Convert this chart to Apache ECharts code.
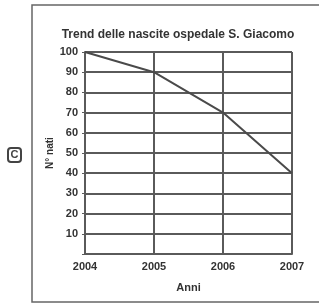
<!DOCTYPE html>
<html><head><meta charset="utf-8">
<script src="https://cdn.jsdelivr.net/npm/echarts@6/dist/echarts.min.js"></script>
<style>html,body{margin:0;padding:0;background:#fff}#c{width:319px;height:305px}</style>
</head><body><div id="c"></div>
<script>
const years = ['2004', '2005', '2006', '2007'];
const births = [100, 90, 70, 40];
const yTicks = [0, 10, 20, 30, 40, 50, 60, 70, 80, 90, 100];

const chart = echarts.init(document.getElementById('c'), null, {renderer: 'canvas'});
const gray = '#5a5a5a';
const txt = '#333';
const font = 'Liberation Sans';
chart.setOption({
  animation: false,
  backgroundColor: '#fff',
  title: {
    text: 'Trend delle nascite ospedale S. Giacomo',
    left: 173, top: 24, textAlign: 'center',
    textStyle: {fontFamily: font, fontSize: 12, fontWeight: 'bold', color: txt}
  },
  grid: {left: 85, top: 52, right: 27, bottom: 51, containLabel: false},
  xAxis: {
    type: 'category', data: years, boundaryGap: false,
    name: 'Anni', nameLocation: 'middle', nameGap: 28,
    nameTextStyle: {fontFamily: font, fontSize: 11, fontWeight: 'bold', color: txt},
    axisLine: {show: true, lineStyle: {color: gray, width: 2}},
    axisTick: {show: false},
    axisLabel: {fontFamily: font, fontSize: 11, fontWeight: 'bold', color: txt, margin: 7},
    splitLine: {show: true, lineStyle: {color: gray, width: 2}}
  },
  yAxis: {
    type: 'value', min: 0, max: 100, interval: 10,
    name: 'N° nati', nameLocation: 'middle', nameGap: 30, nameRotate: 90,
    nameMoveOverlap: false,
    nameTextStyle: {fontFamily: font, fontSize: 10, fontWeight: 'bold', color: txt},
    axisLine: {show: true, lineStyle: {color: gray, width: 2}},
    axisTick: {show: true, length: 3, inside: false, lineStyle: {color: gray, width: 1}},
    axisLabel: {fontFamily: font, fontSize: 11, fontWeight: 'bold', color: txt, margin: 7,
      formatter: v => (yTicks.indexOf(v) > 0 ? String(v) : '')},
    splitLine: {show: true, lineStyle: {color: gray, width: 2}}
  },
  series: [{
    type: 'line', data: births, symbol: 'none',
    lineStyle: {color: '#4a4a4a', width: 2}
  }],
  graphic: [
    {type: 'rect', shape: {x: 32, y: 5, width: 300, height: 297}, style: {fill: null, stroke: '#666', lineWidth: 1.5}, silent: true},
    {type: 'rect', shape: {x: 8, y: 148, width: 13, height: 14, r: 3}, style: {fill: '#fff', stroke: '#444', lineWidth: 2}, silent: true},
    {type: 'text', x: 14.5, y: 155, style: {text: 'C', fontFamily: font, fontSize: 11, fontWeight: 'bold', fill: '#444', align: 'center', verticalAlign: 'middle'}, silent: true}
  ]
});
</script></body></html>
